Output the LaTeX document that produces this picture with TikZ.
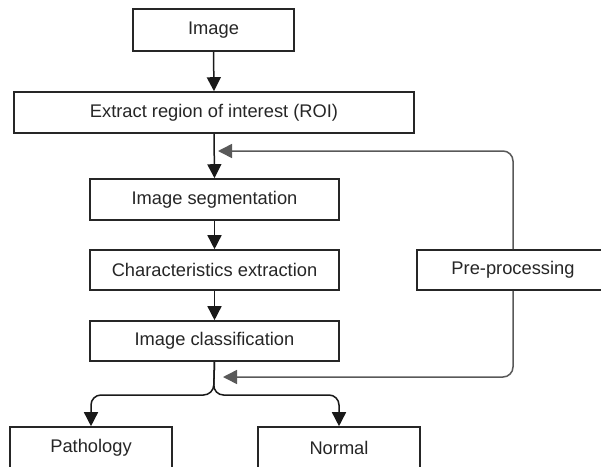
\documentclass[tikz,border=0pt]{standalone}
\usepackage{fontspec}
\setmainfont{Liberation Sans}
\usetikzlibrary{arrows.meta}
\begin{document}
\begin{tikzpicture}[x=1pt,y=-1pt,
  box/.style={draw=black!85, line width=1.6pt, fill=white, inner sep=0pt,
    font=\fontsize{18.3}{21}\selectfont, text=black!85},
  flow/.style={draw=black!90, line width=1.5pt, -{Triangle[width=14pt,length=14pt]}},
  back/.style={draw=black!65, line width=1.5pt, rounded corners=10pt, -{Triangle[width=14pt,length=14pt]}},
  branch/.style={draw=black!90, line width=1.5pt, rounded corners=10pt, -{Triangle[width=14pt,length=14pt]}}]
\useasboundingbox (0,0) rectangle (601,466);
\clip (0,0) rectangle (601,466);
\node[box, minimum width=161pt, minimum height=42pt] (img) at (213.5,30) {Image};
\node[box, minimum width=400pt, minimum height=41pt] (roi) at (214,112.5) {Extract region of interest (ROI)};
\node[box, minimum width=249pt, minimum height=41pt] (seg) at (214.5,199.5) {Image segmentation};
\node[box, minimum width=249pt, minimum height=40pt] (chr) at (214.5,270) {Characteristics extraction};
\node[box, minimum width=249pt, minimum height=40pt] (cls) at (214.5,341) {Image classification};
\node[box, minimum width=192pt, minimum height=40pt] (pre) at (513,270) {Pre-processing};
\node[box, minimum width=162pt, minimum height=41pt] (pat) at (91,447.5) {Pathology};
\node[box, minimum width=162pt, minimum height=41pt] (nor) at (339,447.5) {Normal};
\coordinate (fb1) at (218,151);
\coordinate (fb2) at (223,377);
\draw[flow] (img.south) -- (roi.north);
\draw[flow] (roi.south) -- (seg.north);
\draw[flow] (seg.south) -- (chr.north);
\draw[flow] (chr.south) -- (cls.north);
\draw[back] (pre.north) |- (fb1);
\draw[back] (pre.south) |- (fb2);
\draw[branch] (cls.south) -- (213.5,395) -| (pat.north);
\draw[branch] (cls.south) -- (213.5,395) -| (nor.north);
\end{tikzpicture}
\end{document}
